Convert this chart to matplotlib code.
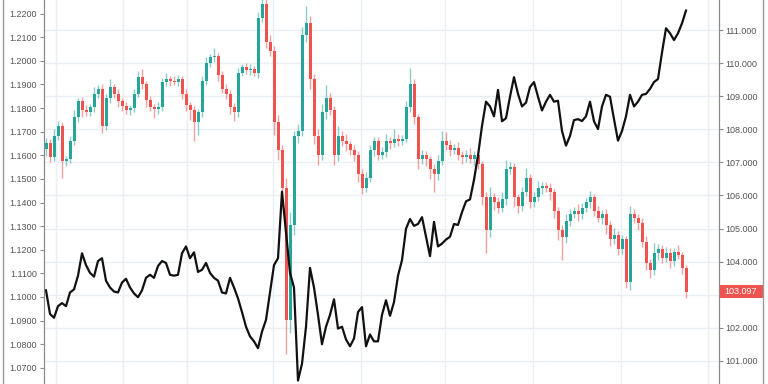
import numpy as np
import matplotlib
matplotlib.use('Agg')
import matplotlib.pyplot as plt
from matplotlib.patches import Rectangle
from matplotlib.lines import Line2D
from matplotlib.transforms import blended_transform_factory

# candles (right scale)
first_open = 107.40
closes = [
    107.60, 107.15, 107.80, 108.09, 107.03, 107.09, 107.66, 108.37, 108.86, 108.57,
    108.51, 108.66, 109.08, 109.23, 108.09, 108.94, 109.28, 109.08, 108.86, 108.71,
    108.57, 108.63, 109.08, 109.57, 109.37, 108.88, 108.66, 108.60, 108.66, 109.43,
    109.51, 109.45, 109.43, 109.51, 109.08, 108.74, 108.57, 108.23, 108.51, 109.45,
    110.00, 110.17, 110.22, 109.65, 109.23, 109.08, 108.66, 108.51, 109.71, 109.88,
    109.80, 109.82, 109.71, 111.36, 111.79, 110.65, 110.36, 108.23, 107.38, 106.24,
    102.25, 105.10, 107.80, 107.95, 110.85, 111.22, 109.51, 107.80, 107.23, 108.51,
    108.94, 108.57, 107.23, 107.80, 107.66, 107.55, 107.38, 107.23, 106.66, 106.24,
    106.52, 107.38, 107.66, 107.23, 107.30, 107.66, 107.60, 107.72, 107.66, 107.72,
    108.66, 109.37, 108.37, 107.09, 107.23, 107.09, 106.81, 106.66, 107.03, 107.66,
    107.52, 107.38, 107.43, 107.23, 107.15, 107.23, 107.09, 107.23, 106.95, 105.95,
    104.96, 105.95, 105.81, 105.61, 105.90, 106.81, 106.87, 105.95, 105.67, 106.10,
    106.52, 105.81, 105.95, 106.24, 106.30, 106.24, 106.10, 105.53, 104.96, 104.76,
    105.24, 105.44, 105.53, 105.44, 105.61, 105.81, 105.95, 105.53, 105.33, 105.44,
    105.10, 104.67, 104.82, 104.39, 104.67, 103.39, 105.44, 105.33, 105.16, 104.59,
    103.96, 103.76, 104.25, 104.39, 104.10, 104.25, 104.02, 104.30, 104.19, 103.82, 103.097,
]
wick_up = [
    0.15, 0.10, 0.20, 0.15, 0.12, 0.10, 0.15, 0.20, 0.10, 0.12,
    0.15, 0.10, 0.20, 0.10, 0.15, 0.12, 0.23, 0.10, 0.15, 0.10,
    0.12, 0.10, 0.15, 0.20, 0.25, 0.10, 0.12, 0.10, 0.15, 0.12,
    0.20, 0.10, 0.15, 0.12, 0.10, 0.15, 0.10, 0.12, 0.10, 0.15,
    0.20, 0.12, 0.25, 0.10, 0.12, 0.15, 0.10, 0.12, 0.15, 0.10,
    0.12, 0.15, 0.10, 0.20, 0.15, 0.30, 0.20, 0.15, 0.20, 0.15,
    0.30, 0.40, 0.15, 0.20, 0.25, 0.50, 0.20, 0.15, 0.20, 0.25,
    0.40, 0.15, 0.12, 0.30, 0.15, 0.20, 0.10, 0.15, 0.12, 0.15,
    0.20, 0.15, 0.12, 0.10, 0.15, 0.20, 0.10, 0.30, 0.15, 0.12,
    0.20, 0.48, 0.15, 0.10, 0.15, 0.12, 0.10, 0.15, 0.20, 0.30,
    0.25, 0.15, 0.12, 0.20, 0.10, 0.15, 0.20, 0.12, 0.15, 0.10,
    0.15, 0.30, 0.12, 0.15, 0.20, 0.25, 0.15, 0.12, 0.10, 0.15,
    0.30, 0.12, 0.15, 0.20, 0.10, 0.12, 0.15, 0.10, 0.12, 0.15,
    0.20, 0.15, 0.12, 0.20, 0.15, 0.12, 0.20, 0.10, 0.15, 0.12,
    0.15, 0.12, 0.20, 0.10, 0.15, 0.10, 0.25, 0.15, 0.12, 0.15,
    0.20, 0.12, 0.30, 0.15, 0.10, 0.20, 0.15, 0.12, 0.20, 0.10, 0.08,
]
wick_dn = [
    0.20, 0.15, 0.10, 0.12, 0.50, 0.15, 0.10, 0.12, 0.15, 0.20,
    0.12, 0.10, 0.15, 0.12, 0.20, 0.10, 0.15, 0.12, 0.20, 0.15,
    0.10, 0.15, 0.12, 0.10, 0.15, 0.20, 0.12, 0.25, 0.15, 0.10,
    0.12, 0.15, 0.10, 0.12, 0.15, 0.20, 0.30, 0.57, 0.40, 0.15,
    0.10, 0.12, 0.15, 0.20, 0.12, 0.15, 0.20, 0.25, 0.15, 0.10,
    0.12, 0.15, 0.10, 0.15, 0.12, 0.20, 0.15, 0.40, 0.30, 0.50,
    1.05, 0.40, 0.30, 0.20, 0.15, 0.20, 0.30, 0.25, 0.30, 0.15,
    0.20, 0.15, 0.30, 0.20, 0.15, 0.20, 0.15, 0.20, 0.25, 0.20,
    0.15, 0.12, 0.20, 0.15, 0.12, 0.15, 0.20, 0.12, 0.15, 0.12,
    0.10, 0.15, 0.20, 0.30, 0.15, 0.20, 0.30, 0.56, 0.20, 0.12,
    0.15, 0.20, 0.12, 0.15, 0.20, 0.15, 0.12, 0.20, 0.15, 0.25,
    0.70, 0.20, 0.25, 0.15, 0.12, 0.20, 0.15, 0.30, 0.20, 0.15,
    0.12, 0.20, 0.15, 0.12, 0.20, 0.15, 0.25, 0.20, 0.30, 0.70,
    0.20, 0.15, 0.12, 0.20, 0.15, 0.12, 0.20, 0.15, 0.12, 0.20,
    0.25, 0.20, 0.15, 0.20, 0.15, 0.20, 0.25, 0.15, 0.20, 0.15,
    0.20, 0.25, 0.15, 0.20, 0.15, 0.12, 0.20, 0.15, 0.12, 0.20, 0.19,
]

# black line (left scale)
line_vals = [
    1.1028, 1.0928, 1.0912, 1.0961, 1.0974, 1.0961, 1.1019, 1.1032, 1.1090, 1.1185,
    1.1135, 1.1102, 1.1086, 1.1152, 1.1164, 1.1069, 1.1040, 1.1023, 1.1019, 1.1061,
    1.1077, 1.1040, 1.1015, 1.0999, 1.1028, 1.1081, 1.1094, 1.1081, 1.1131, 1.1152,
    1.1144, 1.1094, 1.1090, 1.1094, 1.1185, 1.1214, 1.1164, 1.1189, 1.1106, 1.1115,
    1.1144, 1.1102, 1.1081, 1.1069, 1.1019, 1.1015, 1.1081, 1.1040, 1.0994, 1.0936,
    1.0874, 1.0833, 1.0812, 1.0783, 1.0853, 1.0903, 1.1019, 1.1135, 1.1164, 1.1446,
    1.1276, 1.1102, 1.1040, 1.0646, 1.0717, 1.0874, 1.1123, 1.1040, 1.0924, 1.0800,
    1.0874, 1.0924, 1.0990, 1.0866, 1.0874, 1.0820, 1.0791, 1.0824, 1.0936, 1.0957,
    1.0791, 1.0841, 1.0812, 1.0812, 1.0924, 1.0986, 1.0920, 1.0978, 1.1090, 1.1156,
    1.1289, 1.1330, 1.1301, 1.1309, 1.1338, 1.1255, 1.1173, 1.1318, 1.1214, 1.1226,
    1.1243, 1.1255, 1.1309, 1.1305, 1.1359, 1.1405, 1.1413, 1.1496, 1.1599, 1.1724,
    1.1827, 1.1807, 1.1765, 1.1877, 1.1744, 1.1757, 1.1848, 1.1931, 1.1860, 1.1807,
    1.1823, 1.1889, 1.1910, 1.1848, 1.1790, 1.1827, 1.1856, 1.1827, 1.1831, 1.1703,
    1.1641, 1.1682, 1.1749, 1.1753, 1.1745, 1.1765, 1.1827, 1.1744, 1.1711, 1.1807,
    1.1856, 1.1848, 1.1753, 1.1662, 1.1703, 1.1765, 1.1856, 1.1807, 1.1827, 1.1856,
    1.1860, 1.1881, 1.1910, 1.1923, 1.2035, 1.2138, 1.2117, 1.2088, 1.2117, 1.2159, 1.2213,
]

grid_x = [2.5, 19.25, 35.25, 56.75, 78.75, 99.75, 121.75, 143.75, 165.5]

up_col = '#26a69a'
dn_col = '#ef5350'
grid_col = '#e9eff3'
axis_col = '#8a8a8a'
text_col = '#555555'

opens = np.array([first_open] + closes[:-1])
closes_a = np.array(closes)
x = np.arange(len(closes))
cols = np.where(closes_a >= opens, up_col, dn_col)
highs = np.maximum(opens, closes_a) + np.array(wick_up)
lows = np.minimum(opens, closes_a) - np.array(wick_dn)
last = closes[-1]

plt.rcParams['font.family'] = ['Liberation Sans', 'DejaVu Sans']

fig = plt.figure(figsize=(7.68, 3.84), dpi=100)
ax = fig.add_axes([43.5 / 768, -10 / 384, 675.5 / 768, 404 / 384])
ax2 = ax.twinx()

ax.set_xlim(-0.625, 168.25)
ax.set_ylim(100.72, 112.21)

for gx in grid_x:
    ax.axvline(gx, color=grid_col, lw=1, zorder=0)
ax.set_yticks(np.arange(100, 113))


def right_fmt(v, pos):
    # the tick under the last-price tag stays hidden
    if abs(v - round(last)) < 1e-6:
        return ''
    return f'{v:.3f}'


ax.yaxis.set_major_formatter(matplotlib.ticker.FuncFormatter(right_fmt))
ax.grid(axis='y', color=grid_col, lw=1, zorder=0)
ax.set_axisbelow(True)

ax.vlines(x, lows, highs, colors=cols, alpha=0.55, lw=1, zorder=2)
heights = np.maximum(np.abs(closes_a - opens), 0.03)
ax.bar(x, heights, bottom=np.minimum(opens, closes_a), width=0.75, color=cols, lw=0, zorder=3)

# last price tag
trans = blended_transform_factory(ax.transAxes, ax.transData)
ax.add_patch(Rectangle((1.0, last - 0.19), 44 / 675.5, 0.38, transform=trans,
                       facecolor=dn_col, edgecolor='none', clip_on=False, zorder=10))
ax.text(1.0 + 22 / 675.5, last, f'{last:.3f}', transform=trans, color='white',
        fontsize=6.5, ha='center', va='center', clip_on=False, zorder=11)

ax2.set_ylim(1.0589, 1.2262)
ax2.plot(x, line_vals, color='#111111', lw=1.6, zorder=5)
ax2.set_yticks(np.arange(1.06, 1.2301, 0.01))
ax2.yaxis.set_major_formatter(matplotlib.ticker.FormatStrFormatter('%.4f'))

# sides: candles' scale on the right, line's scale on the left
ax.yaxis.tick_right()
ax2.yaxis.tick_left()
for a in (ax, ax2):
    a.tick_params(axis='y', direction='out', length=3, color=axis_col, labelsize=6.5,
                  labelcolor=text_col, pad=1.5)
    a.tick_params(axis='x', bottom=False, labelbottom=False)
    for s in ['top', 'bottom']:
        a.spines[s].set_visible(False)
    for s in ['left', 'right']:
        a.spines[s].set_color(axis_col)

for px in [3, 763]:
    fig.add_artist(Line2D([px / 768, px / 768], [0, 1], color='#9a9a9a', lw=1,
                          transform=fig.transFigure))

fig.savefig('out.png', dpi=100)
